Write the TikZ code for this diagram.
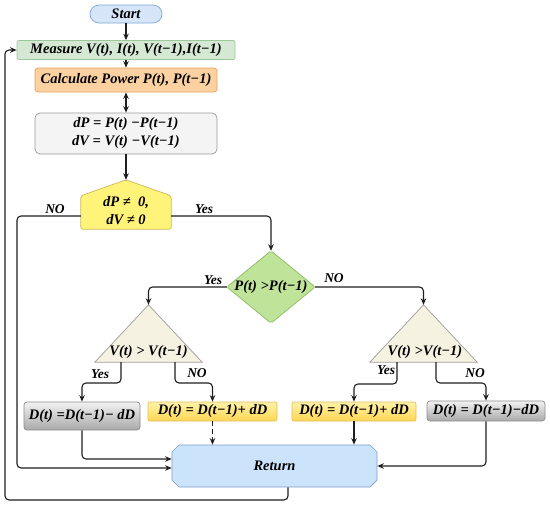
\documentclass[tikz,border=0pt]{standalone}
\usepackage{fontspec}
\setmainfont{Liberation Serif}
\usetikzlibrary{arrows.meta,shapes.misc,calc}
\definecolor{linec}{HTML}{1E1E1E}
\definecolor{startfill}{HTML}{D6E6F8}
\definecolor{startdraw}{HTML}{7EA6D6}
\definecolor{measfill}{HTML}{D5E8D4}
\definecolor{measdraw}{HTML}{9CC79A}
\definecolor{calcfill}{HTML}{FBD1A2}
\definecolor{calcdraw}{HTML}{E3A15C}
\definecolor{dpfill}{HTML}{F4F4F4}
\definecolor{dpdraw}{HTML}{9A9A9A}
\definecolor{pentfill}{HTML}{FFF37A}
\definecolor{pentdraw}{HTML}{CDB75A}
\definecolor{diafill}{HTML}{BFE398}
\definecolor{diadraw}{HTML}{8DBA62}
\definecolor{trifill}{HTML}{F6F2E2}
\definecolor{tridraw}{HTML}{9C9C9C}
\definecolor{retfill}{HTML}{CCE4FB}
\definecolor{retdraw}{HTML}{7A9CC6}
\definecolor{ytop}{HTML}{FFF2A8}
\definecolor{ybot}{HTML}{FFD652}
\definecolor{ydraw}{HTML}{E0C060}
\definecolor{gtop}{HTML}{F2F2F2}
\definecolor{gbot}{HTML}{A9A9A9}
\definecolor{gdraw}{HTML}{8C8C8C}
\begin{document}
\begin{tikzpicture}[x=1pt,y=-1pt,
  txt/.style={font=\fontsize{14.5}{18}\selectfont\bfseries\itshape, text=black, inner sep=0pt, align=center},
  lbl/.style={font=\fontsize{13.5}{16}\selectfont\bfseries\itshape, text=black, inner sep=0pt},
  box/.style={txt, draw, line width=0.7pt},
  ybox/.style={box, top color=ytop, bottom color=ybot, draw=ydraw, rounded corners=2pt},
  gbox/.style={box, top color=gtop, bottom color=gbot, draw=gdraw, rounded corners=3pt},
  conn/.style={line width=1.1pt, draw=linec, rounded corners=4pt},
  arr/.style={conn, -{Stealth[length=6.5pt,width=5.5pt]}},
  dbl/.style={conn, {Stealth[length=6.5pt,width=5.5pt]}-{Stealth[length=6.5pt,width=5.5pt]}},
  shp/.style={line width=0.7pt},
]
\useasboundingbox (0,0) rectangle (550,509);

% top chain
\node[box, fill=startfill, draw=startdraw, minimum width=72pt, minimum height=18pt, rounded corners=9pt] (start) at (126,14) {Start};
\node[box, fill=measfill, draw=measdraw, minimum width=218pt, minimum height=19pt, rounded corners=2pt] (meas) at (126,50) {Measure V(t), I(t), V(t−1),I(t−1)};
\node[box, fill=calcfill, draw=calcdraw, minimum width=182pt, minimum height=24pt, rounded corners=3pt] (calc) at (126,80) {Calculate Power P(t), P(t−1)};
\node[box, fill=dpfill, draw=dpdraw, minimum width=182pt, minimum height=41pt, rounded corners=5pt] (dp) at (126,133.5) {dP = P(t) −P(t−1)\\dV = V(t) −V(t−1)};

% pentagon decision
\node[minimum width=90pt, minimum height=33pt, inner sep=0pt] (dec) at (126,212.5) {};
\coordinate (decapex) at ([yshift=16pt]dec.north);
\filldraw[shp, fill=pentfill, draw=pentdraw, rounded corners=2pt] (dec.south west) -- (dec.north west) -- (decapex) -- (dec.north east) -- (dec.south east) -- cycle;
\node[txt] (dectext) at (126,211) {dP ≠\ \ 0,\\dV ≠ 0};

% diamond decision
\node[minimum width=88pt, minimum height=72pt, inner sep=0pt] (dia) at (271,287) {};
\filldraw[shp, fill=diafill, draw=diadraw, rounded corners=2pt] (dia.north) -- (dia.east) -- (dia.south) -- (dia.west) -- cycle;
\node[txt] (diatext) at (271,287) {P(t) >P(t−1)};

% triangles
\node[minimum width=107pt, minimum height=57pt, inner sep=0pt] (tl) at (148.5,333.5) {};
\filldraw[shp, fill=trifill, draw=tridraw] (tl.south west) -- (tl.north) -- (tl.south east) -- cycle;
\node[txt] (tltext) at (148.5,352) {V(t) > V(t−1)};
\node[minimum width=107pt, minimum height=57pt, inner sep=0pt] (tr) at (423.5,333.5) {};
\filldraw[shp, fill=trifill, draw=tridraw] (tr.south west) -- (tr.north) -- (tr.south east) -- cycle;
\node[txt] (trtext) at (425,352) {V(t) >V(t−1)};

% result boxes
\node[gbox, minimum width=116pt, minimum height=28pt] (ll) at (82,416) {D(t) =D(t−1)− dD};
\node[ybox, minimum width=129pt, minimum height=19pt] (lr) at (212.5,411.5) {D(t) = D(t−1)+ dD};
\node[ybox, minimum width=124pt, minimum height=19pt] (rl) at (354,411.5) {D(t) = D(t−1)+ dD};
\node[gbox, minimum width=118pt, minimum height=20pt] (rr) at (486,411) {D(t) = D(t−1)−dD};

% return
\node[box, chamfered rectangle, chamfered rectangle sep=3.5pt, fill=retfill, draw=retdraw, minimum width=205pt, minimum height=42pt] (ret) at (274.5,466) {Return};

% connectors
\draw[arr] (start) -- (meas);
\draw[arr] (meas) -- (calc);
\draw[dbl] (calc) -- (dp);
\draw[arr] (dp) -- (decapex);
\draw[arr] ([yshift=-3.5pt]dec.west) -| (17,468) -- (ret.west |- 0,468);
\draw[arr] ([yshift=-3.5pt]dec.east) -| (dia.north);
\draw[arr] (dia.west) -| (tl.north);
\draw[arr] (dia.east) -| (tr.north);
\draw[arr] (tl.south -| 121,0) -- (121,383) -| (ll.north);
\draw[arr] (tl.south -| 175,0) -- (175,383) -| (lr.north);
\draw[arr] (tr.south -| 397,0) -- (397,384) -| (rl.north);
\draw[arr] (tr.south -| 436,0) -- (436,383) -| (rr.north);
\draw[arr] (ll.south) |- (ret.west |- 0,459);
\draw[arr, dash pattern=on 5pt off 3pt] (lr.south) -- (ret.north -| lr.south);
\draw[arr] (rl.south) -- (ret.north -| rl.south);
\draw[arr] (rr.south) |- (ret.east);
\draw[arr] (ret.south -| 288,0) -- (288,500) -- (5,500) -- (5,50) -- (meas.west);

% labels
\node[lbl] (lno1) at (55,209) {NO};
\node[lbl] (lyes1) at (204,209) {Yes};
\node[lbl] (lyes2) at (213,280) {Yes};
\node[lbl] (lno2) at (334,278) {NO};
\node[lbl] (lyes3) at (100,374) {Yes};
\node[lbl] (lno3) at (197,373) {NO};
\node[lbl] (lyes4) at (386,370) {Yes};
\node[lbl] (lno4) at (475,373) {NO};
\end{tikzpicture}
\end{document}
